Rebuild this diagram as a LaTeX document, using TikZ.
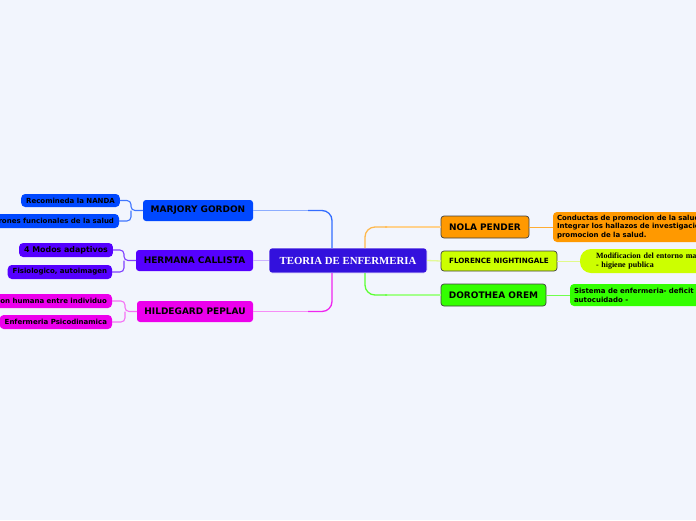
\documentclass[tikz,border=0pt]{standalone}
\usepackage{fontspec}
\newfontfamily\vf{DejaVu Sans}
\newfontfamily\tf{Liberation Serif}
\definecolor{bgC}{RGB}{242,245,253}
\definecolor{cenC}{RGB}{51,17,221}
\definecolor{mgC}{RGB}{0,72,255}
\definecolor{hcC}{RGB}{85,0,255}
\definecolor{hpC}{RGB}{236,0,236}
\definecolor{npC}{RGB}{255,153,0}
\definecolor{fnC}{RGB}{204,255,0}
\definecolor{doC}{RGB}{51,255,0}
\begin{document}
\begin{tikzpicture}[x=1pt,y=-1pt,
  every node/.style={inner sep=0pt, outer sep=0pt},
  mainbox/.style={rectangle, rounded corners=3pt, font=\vf\bfseries\fontsize{9}{10}\selectfont, text=black},
  subbox/.style={rectangle, rounded corners=4pt, font=\vf\bfseries\fontsize{7}{8}\selectfont, text=black, inner xsep=5pt, minimum height=14pt},
  link/.style={line width=1.3pt},
  bracket/.style={line width=1.1pt, rounded corners=4pt}]
\fill[bgC] (0,0) rectangle (696,520);
\useasboundingbox (0,0) rectangle (696,520);
\clip (0,0) rectangle (696,520);

% central
\node[rectangle, rounded corners=3pt, fill=cenC, draw=white, line width=0.6pt, minimum width=158pt, minimum height=25pt,
  font=\tf\bfseries\fontsize{10.8}{12}\selectfont, text=white] (cen) at (348,260.5) {TEORIA DE ENFERMERIA};

% left main nodes
\node[mainbox, fill=mgC, minimum width=110pt, minimum height=21pt] (mg) at (198,210.5) {MARJORY GORDON};
\node[mainbox, fill=hcC, minimum width=117pt, minimum height=21pt] (hc) at (194.5,260.5) {HERMANA CALLISTA};
\node[mainbox, fill=hpC, minimum width=116pt, minimum height=21pt] (hp) at (195,311.5) {HILDEGARD PEPLAU};

% right main nodes
\node[mainbox, fill=npC, draw=black!75, line width=0.7pt, minimum width=88pt, minimum height=22pt] (np) at (485,227) {NOLA PENDER};
\node[mainbox, fill=fnC, draw=black!75, line width=0.7pt, minimum width=116pt, minimum height=20pt,
  font=\vf\bfseries\fontsize{7.2}{8}\selectfont] (fn) at (499,261) {FLORENCE NIGHTINGALE};
\node[mainbox, fill=doC, draw=black!75, line width=0.7pt, minimum width=105pt, minimum height=22pt] (do) at (493.5,295) {DOROTHEA OREM};

% left sub nodes
\node[subbox, fill=mgC, minimum width=97pt, minimum height=13pt] (rec) at (70.5,200.5) {Recomineda la NANDA};
\node[subbox, fill=mgC, anchor=east] (pat) at (119,221) {Patrones funcionales de la salud};
\node[subbox, fill=hcC, minimum width=92pt, font=\vf\bfseries\fontsize{7.9}{9}\selectfont] (mod) at (66,250) {4 Modos adaptivos};
\node[subbox, fill=hcC, anchor=east] (fis) at (112,272) {Fisiologico, autoimagen};
\node[subbox, fill=hpC, anchor=east] (rel) at (112,301) {Relacion humana entre individuo};
\node[subbox, fill=hpC, anchor=east] (psi) at (112,322) {Enfermeria Psicodinamica};

% right sub nodes
\node[subbox, fill=npC, anchor=west, minimum height=30pt, align=left, text width=170pt,
  font=\vf\bfseries\fontsize{7}{8.8}\selectfont, inner xsep=4pt] (con) at (553,227)
  {Conductas de promocion de la salud\\Integrar los hallazos de investigacion\\promocion de la salud.};
\node[rectangle, rounded corners=11pt, fill=fnC, anchor=west, minimum height=24pt, align=left, text width=150pt,
  font=\tf\bfseries\fontsize{8}{8.8}\selectfont, inner xsep=16pt] (mod2) at (580,261)
  {Modificacion del entorno mas\\- higiene publica};
\node[subbox, fill=doC, anchor=west, minimum height=22pt, align=left, text width=170pt,
  font=\vf\bfseries\fontsize{7}{8.8}\selectfont, inner xsep=4pt] (sis) at (570,295)
  {Sistema de enfermeria- deficit de\\autocuidado -};

% junction coordinates
\coordinate (jmg) at (131,210.5);
\coordinate (jhc) at (124,260.5);
\coordinate (jhp) at (125,311.5);
\coordinate (cl) at (332,248);
\coordinate (clb) at (332,273);
\coordinate (cr) at (365,248);
\coordinate (crb) at (365,273);

% central links
\draw[link, color=mgC!45] (mg.east) -- (310,210.5);
\draw[link, color=mgC!80, rounded corners=10pt] (308,210.5) -| (cl);
\draw[link, color=hcC!30] (hc.east) -- (cen.west);
\draw[link, color=hpC!45] (hp.east) -- (310,311.5);
\draw[link, color=hpC!85, rounded corners=10pt] (308,311.5) -| (clb);
\draw[link, color=npC!45] (np.west) -- (385,227);
\draw[link, color=npC!70, rounded corners=10pt] (387,227) -| (cr);
\draw[link, color=fnC!40!bgC] (fn.west) -- (cen.east);
\draw[link, color=doC!45] (do.west) -- (385,295);
\draw[link, color=doC!80, rounded corners=10pt] (387,295) -| (crb);

% brackets
\draw[bracket, color=mgC!75] (rec.east) -| (jmg) -- (mg.west);
\draw[bracket, color=mgC!75] (pat.east) -| (jmg);
\draw[bracket, color=hcC!75] (mod.east) -| (jhc) -- (hc.west);
\draw[bracket, color=hcC!75] (fis.east) -| (jhc);
\draw[bracket, color=hpC!55] (rel.east) -| (jhp) -- (hp.west);
\draw[bracket, color=hpC!55] (psi.east) -| (jhp);

% right sub links
\draw[link, line width=1pt, color=npC!80] (np.east) -- (con.west);
\draw[link, line width=1pt, color=fnC!45!bgC] (fn.east) -- (mod2.west);
\draw[link, line width=1pt, color=doC!70] (do.east) -- (sis.west);
\end{tikzpicture}
\end{document}
